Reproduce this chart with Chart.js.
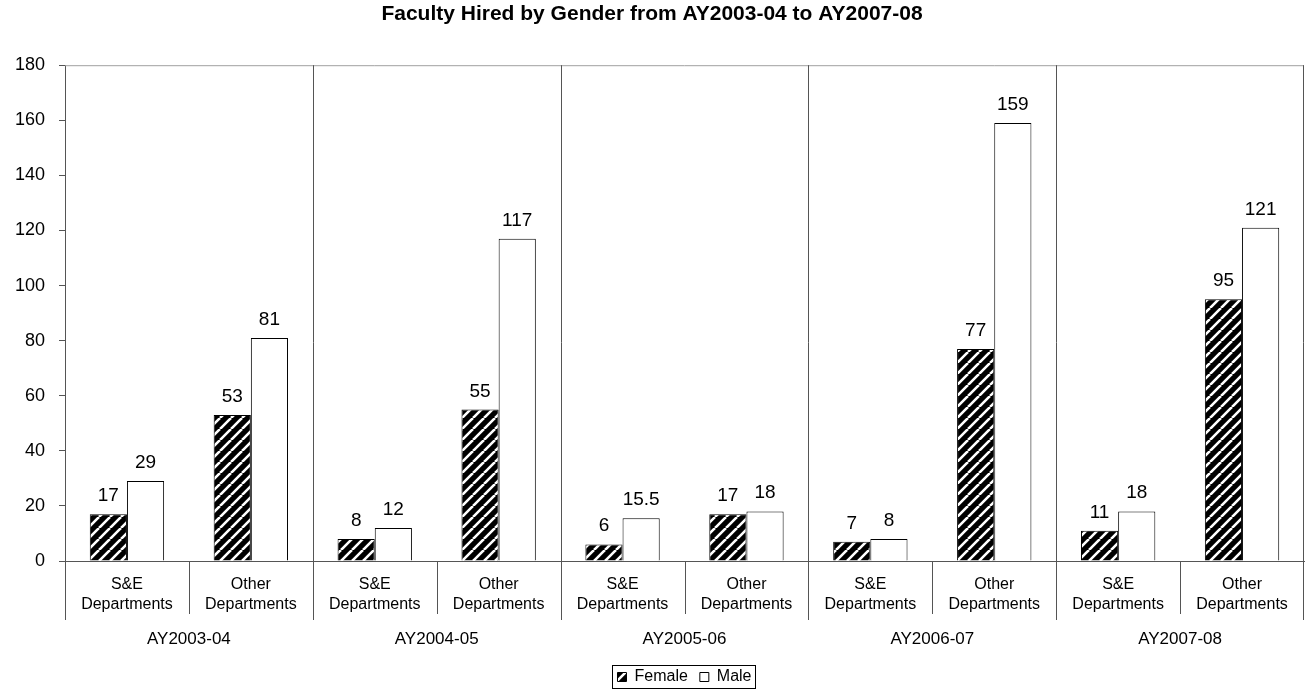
<!DOCTYPE html>
<html><head><meta charset="utf-8">
<script src="https://cdn.jsdelivr.net/npm/chart.js@4"></script>
<style>html,body{margin:0;padding:0;background:#fff}#wrap{width:1310px;height:690px;position:relative}</style>
</head><body><div id="wrap"><canvas id="c" width="1310" height="690"></canvas></div>
<script>
const chartTitle = 'Faculty Hired by Gender from AY2003-04 to AY2007-08';
const subCategories = [
  ['S&E', 'Departments'], ['Other', 'Departments'],
  ['S&E', 'Departments'], ['Other', 'Departments'],
  ['S&E', 'Departments'], ['Other', 'Departments'],
  ['S&E', 'Departments'], ['Other', 'Departments'],
  ['S&E', 'Departments'], ['Other', 'Departments']
];
const years = ['AY2003-04', 'AY2004-05', 'AY2005-06', 'AY2006-07', 'AY2007-08'];
const femaleValues = [17, 53, 8, 55, 6, 17, 7, 77, 11, 95];
const maleValues = [29, 81, 12, 117, 15.5, 18, 8, 159, 18, 121];
const seriesNames = ['Female', 'Male'];
const yMin = 0, yMax = 180, yStep = 20;

Chart.defaults.font.family = "'Liberation Sans', Arial, sans-serif";
Chart.defaults.color = '#000';

function makeHatch() {
  const p = 11;
  const c = document.createElement('canvas');
  c.width = p; c.height = p;
  const g = c.getContext('2d');
  g.fillStyle = '#000';
  g.fillRect(0, 0, p, p);
  g.strokeStyle = '#fff';
  g.lineWidth = 2.6;
  g.beginPath();
  for (let k = -1; k <= 1; k++) {
    g.moveTo(k * p, p);
    g.lineTo(k * p + p, 0);
  }
  g.stroke();
  return document.getElementById('c').getContext('2d').createPattern(c, 'repeat');
}
const hatch = makeHatch();

const separators = {
  id: 'separators',
  afterDraw(chart) {
    const ctx = chart.ctx, ca = chart.chartArea, sc = chart.scales.x;
    const step = sc.getPixelForValue(1) - sc.getPixelForValue(0);
    const yearBottom = 620;
    ctx.save();
    ctx.lineWidth = 1;
    ctx.strokeStyle = '#a0a0a0';
    ctx.beginPath();
    ctx.moveTo(ca.left, ca.top + 0.5); ctx.lineTo(ca.right, ca.top + 0.5);
    ctx.stroke();
    ctx.strokeStyle = '#555';
    ctx.beginPath();
    for (let i = 1; i < subCategories.length; i++) {
      const bx = Math.round(sc.getPixelForValue(i) - step / 2) + 0.5;
      if (i % 2 === 0) {
        ctx.moveTo(bx, ca.top); ctx.lineTo(bx, yearBottom);
      } else {
        ctx.moveTo(bx, ca.bottom); ctx.lineTo(bx, ca.bottom + 53);
      }
    }
    ctx.moveTo(Math.round(ca.left) + 0.5, ca.bottom); ctx.lineTo(Math.round(ca.left) + 0.5, yearBottom);
    ctx.moveTo(Math.round(ca.right) - 0.5, ca.top); ctx.lineTo(Math.round(ca.right) - 0.5, yearBottom);
    ctx.stroke();
    const hb = chart.legend && chart.legend.legendHitBoxes;
    if (hb && hb.length) {
      let l = Infinity, r = -Infinity, t = Infinity, b = -Infinity;
      hb.forEach(h => { l = Math.min(l, h.left); r = Math.max(r, h.left + h.width); t = Math.min(t, h.top); b = Math.max(b, h.top + h.height); });
      ctx.strokeStyle = '#000';
      ctx.strokeRect(Math.round(l) - 4.5, Math.round(t) - 3.5, Math.round(r - l) + 9, Math.round(b - t) + 7);
    }
    ctx.restore();
  }
};

const valueLabels = {
  id: 'valueLabels',
  afterDatasetsDraw(chart) {
    const ctx = chart.ctx;
    ctx.save();
    ctx.font = "19px 'Liberation Sans', Arial, sans-serif";
    ctx.fillStyle = '#000';
    ctx.textAlign = 'center';
    ctx.textBaseline = 'alphabetic';
    chart.data.datasets.forEach((ds, di) => {
      chart.getDatasetMeta(di).data.forEach((el, i) => {
        ctx.fillText(String(ds.data[i]), el.x, el.y - 13);
      });
    });
    ctx.restore();
  }
};

new Chart(document.getElementById('c'), {
  type: 'bar',
  data: {
    labels: subCategories,
    datasets: [
      { label: seriesNames[0], data: femaleValues, backgroundColor: hatch, borderColor: '#000', borderWidth: 1 },
      { label: seriesNames[1], data: maleValues, backgroundColor: '#fff', borderColor: '#000', borderWidth: 1 }
    ]
  },
  options: {
    responsive: false,
    animation: false,
    layout: { padding: { left: 0, right: 6, top: 0, bottom: -5 } },
    datasets: { bar: { categoryPercentage: 0.6, barPercentage: 1.0 } },
    plugins: {
      title: {
        display: true, text: chartTitle,
        font: { size: 21, weight: 'bold', lineHeight: 1.2 }, color: '#000',
        padding: { top: 2, bottom: 38 }
      },
      legend: {
        position: 'bottom',
        fullSize: false,
        labels: { boxWidth: 9, boxHeight: 9, font: { size: 16 }, color: '#000', padding: 12 }
      },
      tooltip: { enabled: false }
    },
    scales: {
      x: {
        position: 'bottom',
        grid: { display: false },
        border: { display: true, color: '#555', width: 1 },
        ticks: { font: { size: 16, lineHeight: 1.25 }, color: '#000', padding: 6, maxRotation: 0, autoSkip: false },
        afterFit(s) { s.height = 56; }
      },
      x2: {
        type: 'category',
        labels: years,
        position: 'bottom',
        grid: { display: false },
        border: { display: false },
        ticks: { font: { size: 17 }, color: '#000', padding: 4, maxRotation: 0, autoSkip: false },
        afterFit(s) { s.height = 40; }
      },
      y: {
        min: yMin, max: yMax,
        grid: { drawOnChartArea: false, drawTicks: true, tickLength: 6, color: '#555' },
        border: { display: true, color: '#555', width: 1 },
        ticks: { stepSize: yStep, font: { size: 18 }, color: '#000', padding: 14 },
        afterFit(s) { s.width = 65; }
      }
    }
  },
  plugins: [separators, valueLabels]
});
</script>
</body></html>
